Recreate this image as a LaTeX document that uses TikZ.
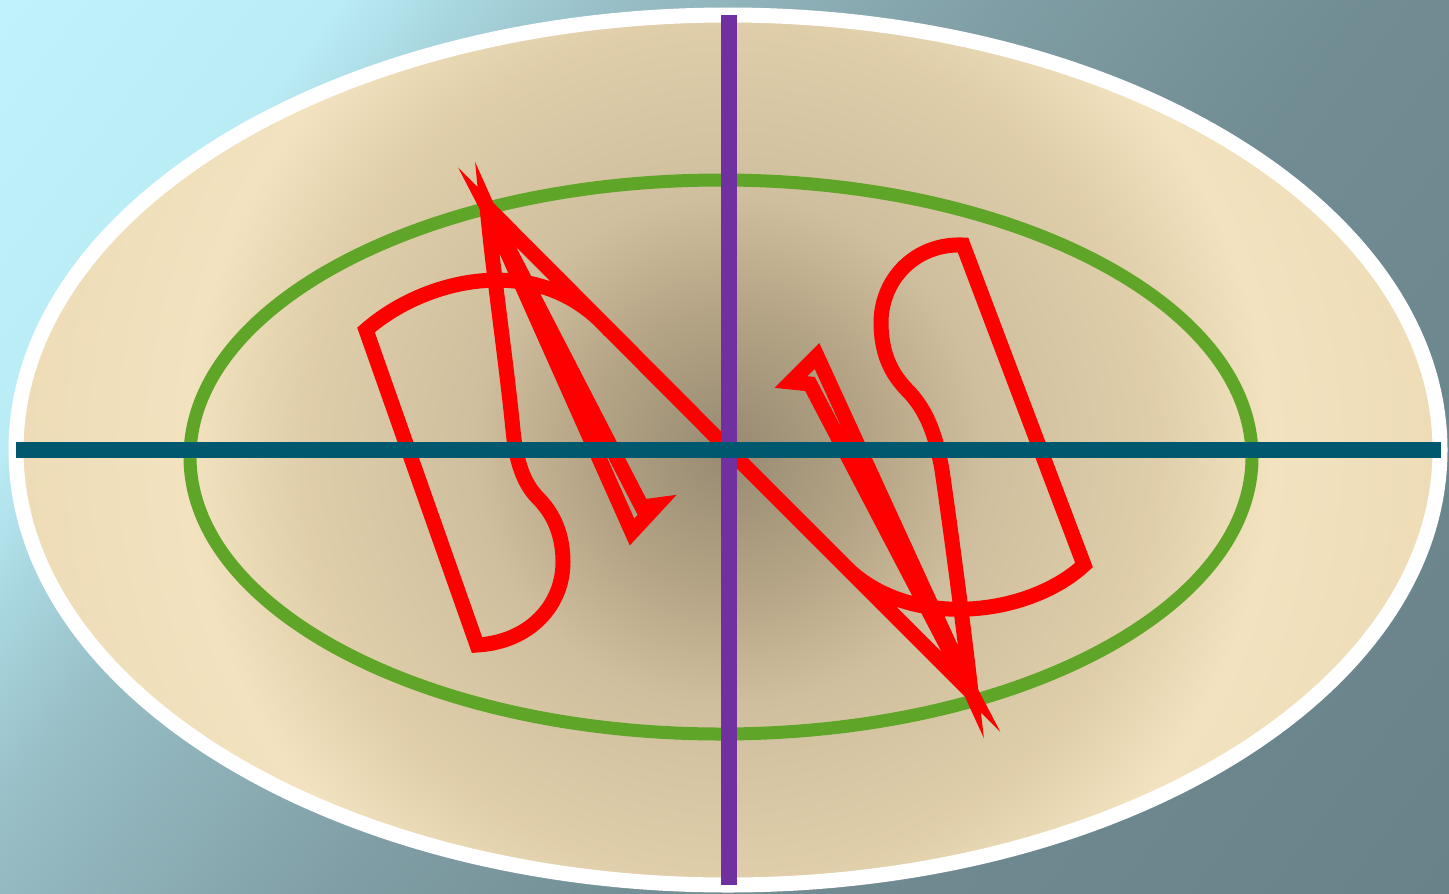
\documentclass[tikz,border=0pt]{standalone}
\usetikzlibrary{calc}
\definecolor{SkyA}{RGB}{192,242,252}
\definecolor{SkyB}{RGB}{186,236,246}
\definecolor{SkyC}{RGB}{168,214,223}
\definecolor{SkyD}{RGB}{152,190,198}
\definecolor{SkyE}{RGB}{128,158,165}
\definecolor{SkyF}{RGB}{113,140,147}
\definecolor{SkyG}{RGB}{105,130,137}
\definecolor{EggDark}{RGB}{151,138,114}
\definecolor{EggMid}{RGB}{181,165,134}
\definecolor{EggWarm}{RGB}{207,191,158}
\definecolor{EggRim}{RGB}{223,206,169}
\definecolor{EggLight}{RGB}{242,226,191}
\definecolor{EggEdge}{RGB}{237,220,182}
\definecolor{RingGreen}{RGB}{95,165,40}
\definecolor{AxisPurple}{RGB}{112,48,160}
\definecolor{AxisTeal}{RGB}{0,88,111}
\definecolor{GlyphRed}{RGB}{255,0,0}
\pgfdeclarehorizontalshading{skyshade}{100bp}{color(0bp)=(SkyA); color(20.8bp)=(SkyA); color(30.1bp)=(SkyB); color(33.5bp)=(SkyC); color(37.7bp)=(SkyD); color(48.4bp)=(SkyE); color(58.7bp)=(SkyF); color(79.4bp)=(SkyG); color(100bp)=(SkyG)}
\pgfdeclareradialshading{eggshade}{\pgfpoint{0bp}{0bp}}{color(0bp)=(EggDark); color(5bp)=(EggMid); color(9bp)=(EggWarm); color(15bp)=(EggRim); color(19bp)=(EggLight); color(25bp)=(EggEdge); color(50bp)=(EggEdge)}
\tikzset{
  rimline/.style={draw=white,line width=0.30cm},
  ringline/.style={draw=RingGreen,line width=0.26cm},
  glyphline/.style={draw=GlyphRed,line width=0.30cm,line join=miter,miter limit=12},
  vaxis/.style={draw=AxisPurple,line width=0.32cm},
  haxis/.style={draw=AxisTeal,line width=0.32cm}
}
\begin{document}
\begin{tikzpicture}[x=0.02cm,y=-0.02cm]
  \useasboundingbox (0,0) rectangle (1449,893);
  \begin{scope}
    \clip (0,0) rectangle (1449,893);
    \shade[shading=skyshade,shading angle=-36.87] (0,-278) rectangle (1449,1171);
  \end{scope}
  \coordinate (mid) at (729,450);
  \coordinate (apexL) at (487,207);
  \coordinate (apexR) at (971,692);
  % egg and rings
  \begin{scope}
    \clip (728,450) ellipse [x radius=712,y radius=435];
    \shade[shading=eggshade] (17,-262) rectangle (1441,1162);
  \end{scope}
  \draw[rimline] (728,450) ellipse [x radius=712,y radius=435];
  \draw[ringline] (721,457) ellipse [x radius=531,y radius=277];
  % glyph, left half
  \draw[glyphline] (610,331) .. controls (540,250) and (425,278) .. (366,330)
    -- (477,645) .. controls (530,642) and (563,605) .. (563,562)
    .. controls (563,530) and (550,510) .. (538,498)
    .. controls (524,484) and (516,462) .. (513,430)
    .. controls (506,360) and (494,280) .. (apexL)
    -- (632,532) -- (657,505) -- (642,507) -- (apexL) -- (mid);
  % glyph, right half
  \draw[glyphline] (850,571) .. controls (915,630) and (1030,615) .. (1084,565)
    -- (963,245) .. controls (915,243) and (880,280) .. (881,325)
    .. controls (882,360) and (895,378) .. (910,393)
    .. controls (925,410) and (935,430) .. (942,470)
    .. controls (955,560) and (965,640) .. (apexR)
    -- (817,356) -- (791,382) -- (810,384) -- (apexR) -- (mid);
  % axes
  \draw[vaxis] (729,15) -- (729,885);
  \draw[haxis] (16,450) -- (1441,450);
\end{tikzpicture}
\end{document}
